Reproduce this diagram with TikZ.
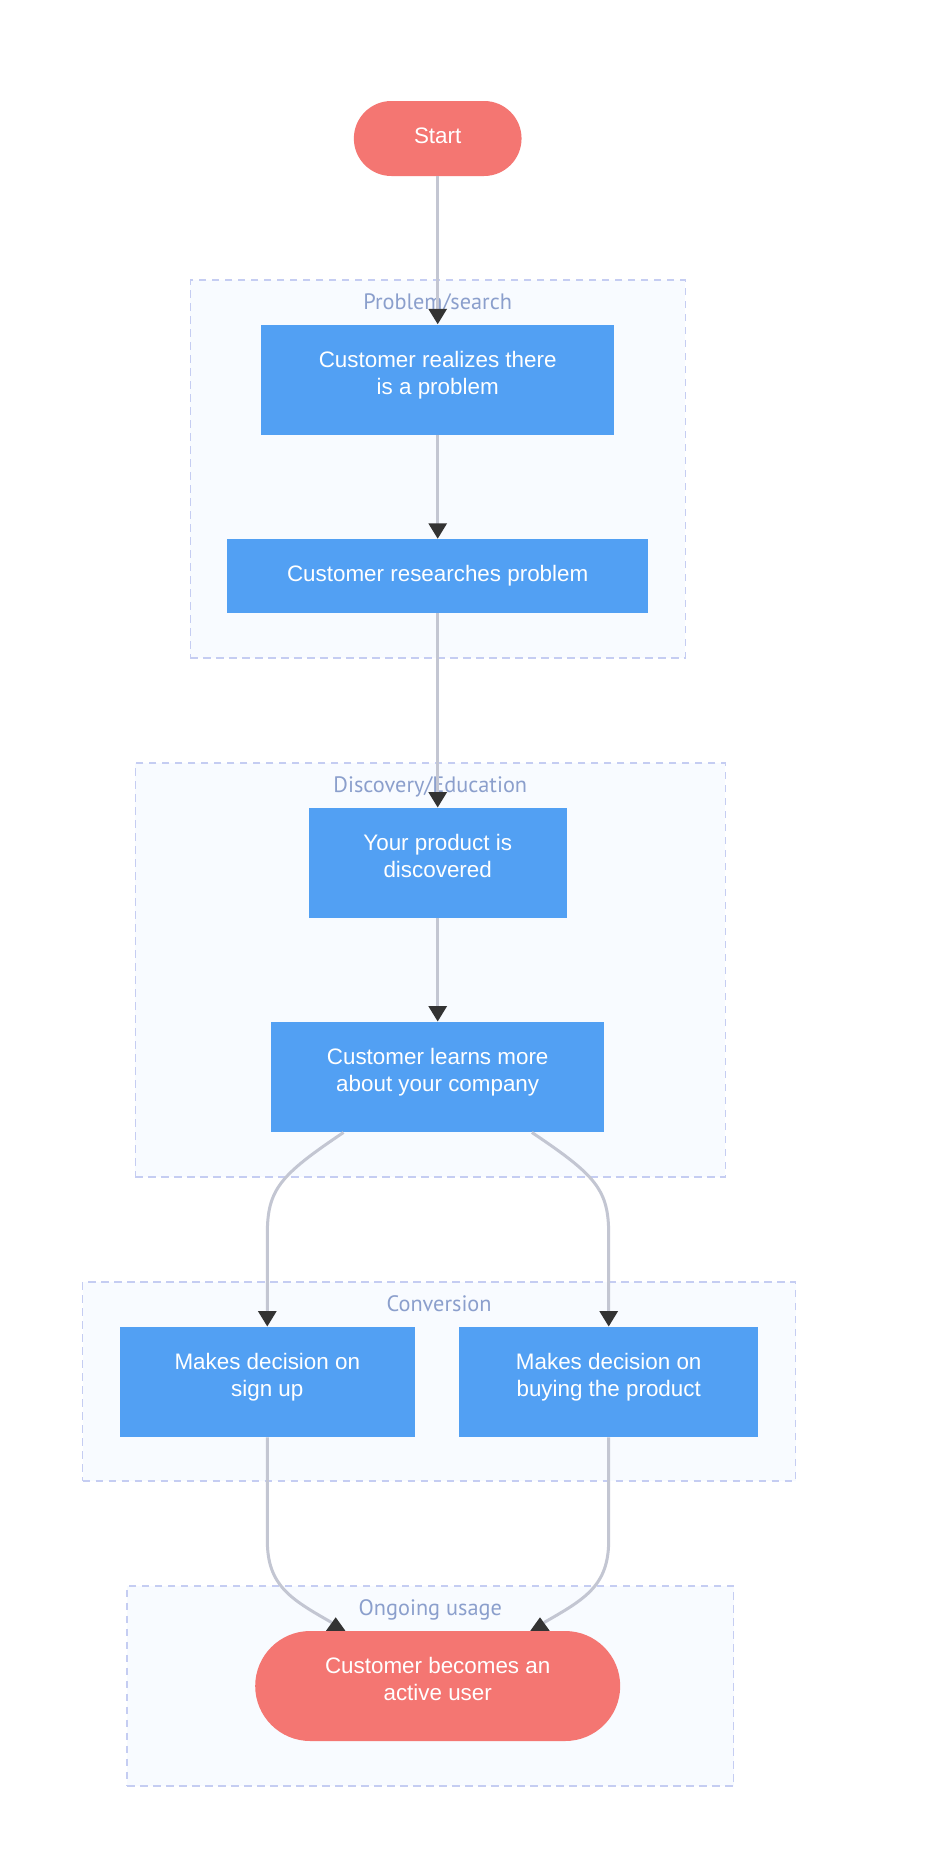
\documentclass[tikz,border=0pt]{standalone}
\usepackage{fontspec}
\setmainfont{Liberation Sans}
\newfontfamily\lblfont{PT Sans}
\usetikzlibrary{arrows.meta,calc}
\definecolor{nodeblue}{HTML}{52A0F3}
\definecolor{nodered}{HTML}{F47672}
\definecolor{clfill}{HTML}{F8FBFF}
\definecolor{cldraw}{HTML}{C5CDF2}
\definecolor{lblc}{HTML}{8B9FCC}
\definecolor{edgec}{HTML}{C3C6D2}
\definecolor{tipc}{HTML}{333333}
\begin{document}
\begin{tikzpicture}[x=1pt,y=-1pt,
 cluster/.style={draw=cldraw, fill=clfill, line width=1.4pt, dash pattern=on 7.5pt off 5.5pt, rectangle, inner sep=0pt},
 box/.style={fill=nodeblue, rectangle, inner sep=0pt},
 term/.style={fill=nodered, rectangle, inner sep=0pt},
 txt/.style={text=white, font=\fontsize{22.4}{27.3}\selectfont, align=center, inner sep=0pt},
 lbltxt/.style={text=lblc, font=\lblfont\fontsize{22.3}{26}\selectfont, inner sep=0pt, anchor=base},
 flow/.style={draw=edgec, line width=3pt},
 arr/.style={flow, -{Triangle[width=18pt,length=15.5pt,color=tipc]}},
]
\useasboundingbox (0,0) rectangle (926,1868);
\fill[white] (0,0) rectangle (926,1868);

% clusters
\node[cluster, minimum width=495pt, minimum height=378pt] (c1) at (437.7,469) {};
\node[cluster, minimum width=590pt, minimum height=414pt] (c2) at (430.3,970) {};
\node[cluster, minimum width=713pt, minimum height=199pt] (c3) at (439.1,1381.5) {};
\node[cluster, minimum width=606.6pt, minimum height=200pt] (c4) at (430.3,1686) {};
\node[lbltxt] (l1) at ($(c1.north)+(0,30)$) {Problem/search};
\node[lbltxt] (l2) at ($(c2.north)+(0,30)$) {Discovery/Education};
\node[lbltxt] (l3) at ($(c3.north)+(0,30)$) {Conversion};
\node[lbltxt] (l4) at ($(c4.north)+(0,30)$) {Ongoing usage};

% nodes
\node[term, minimum width=167.7pt, minimum height=75pt, rounded corners=37.5pt] (start) at (437.7,138.5) {};
\node[box, minimum width=352.6pt, minimum height=110.5pt] (b1) at (437.7,379.75) {};
\node[box, minimum width=420.6pt, minimum height=74pt] (b2) at (437.7,576) {};
\node[box, minimum width=258pt, minimum height=110.5pt] (b3) at (437.7,863) {};
\node[box, minimum width=333pt, minimum height=110.5pt] (b4) at (437.7,1077) {};
\node[box, minimum width=294.7pt, minimum height=110.5pt] (b5) at (267.3,1382) {};
\node[box, minimum width=299.5pt, minimum height=110.5pt] (b6) at (608.7,1382) {};
\node[term, minimum width=365pt, minimum height=110pt, rounded corners=55pt] (end) at (437.7,1686) {};

\node[txt] (ts) at (start.center) {\strut Start};
\node[txt] (t1) at ($(b1.center)+(0,-4.5)$) {\strut Customer realizes there\\is a problem\strut};
\node[txt] (t2) at (b2.center) {\strut Customer researches problem};
\node[txt] (t3) at ($(b3.center)+(0,-4.5)$) {\strut Your product is\\discovered\strut};
\node[txt] (t4) at ($(b4.center)+(0,-4.5)$) {\strut Customer learns more\\about your company\strut};
\node[txt] (t5) at ($(b5.center)+(0,-4.5)$) {\strut Makes decision on\\sign up\strut};
\node[txt] (t6) at ($(b6.center)+(0,-4.5)$) {\strut Makes decision on\\buying the product\strut};
\node[txt] (te) at ($(end.center)+(0,-4.5)$) {\strut Customer becomes an\\active user\strut};

% edges
\draw[arr] (start.south) -- (b1.north);
\draw[arr] (b1.south) -- (b2.north);
\draw[arr] (b2.south) -- (b3.north);
\draw[arr] (b3.south) -- (b4.north);
\draw[arr] ($(b4.south)+(-94.2,0)$) .. controls +(-64,43) and +(0,-45) .. ($(b5.north)+(0,-92)$) -- (b5.north);
\draw[arr] ($(b4.south)+(94.2,0)$) .. controls +(64,43) and +(0,-45) .. ($(b6.north)+(0,-92)$) -- (b6.north);

\coordinate (eL) at ($(end.north)+(-102,0)$);
\coordinate (eR) at ($(end.north)+(102.3,0)$);
\draw[flow] (b5.south) -- ++(0,102.75) .. controls +(0,45) and +(-41.7,-23.7) .. ($(eL)+(-4,-8.3)$);
\draw[flow] (b6.south) -- ++(0,102.75) .. controls +(0,45) and +(41.7,-23.7) .. ($(eR)+(4,-8.3)$);
\fill[tipc] ($(eL)+(-9.7,0)$) -- ($(eL)+(0,-13.5)$) -- ($(eL)+(9.7,0)$) -- cycle;
\fill[tipc] ($(eR)+(-9.7,0)$) -- ($(eR)+(0,-13.5)$) -- ($(eR)+(9.7,0)$) -- cycle;
\end{tikzpicture}
\end{document}
